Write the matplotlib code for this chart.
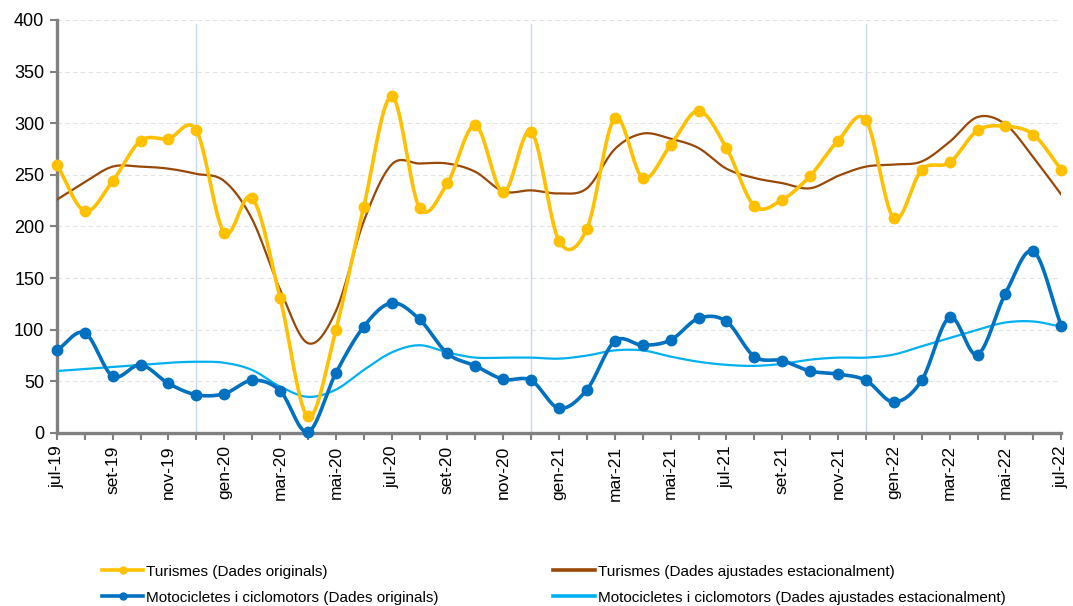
import numpy as np
import matplotlib
matplotlib.use("Agg")
import matplotlib.pyplot as plt
from matplotlib.lines import Line2D

plt.rcParams['font.family'] = ['Liberation Sans', 'DejaVu Sans']

# months jul-19 .. jul-22
mesos = ['jul-19', 'ago-19', 'set-19', 'oct-19', 'nov-19', 'des-19',
         'gen-20', 'feb-20', 'mar-20', 'abr-20', 'mai-20', 'jun-20',
         'jul-20', 'ago-20', 'set-20', 'oct-20', 'nov-20', 'des-20',
         'gen-21', 'feb-21', 'mar-21', 'abr-21', 'mai-21', 'jun-21',
         'jul-21', 'ago-21', 'set-21', 'oct-21', 'nov-21', 'des-21',
         'gen-22', 'feb-22', 'mar-22', 'abr-22', 'mai-22', 'jun-22',
         'jul-22']

turismes_orig = [260, 215, 244, 283, 285, 293, 194, 228, 131, 16, 100, 219,
                 326, 218, 242, 298, 233, 292, 186, 198, 305, 247, 279, 312,
                 276, 220, 226, 249, 283, 303, 208, 255, 262, 293, 297, 289,
                 255]
turismes_aj = [226, 243, 258, 258, 256, 251, 244, 207, 139, 87, 118, 205,
               260, 261, 261, 253, 234, 235, 232, 237, 275, 290, 285, 276,
               256, 247, 242, 237, 249, 258, 260, 263, 282, 306, 299, 267,
               231]
motos_orig = [80, 97, 55, 66, 48, 37, 38, 51, 41, 1, 58, 103,
              126, 110, 77, 65, 52, 51, 24, 42, 89, 85, 90, 111,
              108, 74, 70, 60, 57, 51, 30, 51, 112, 76, 135, 176,
              104]
motos_aj = [60, 62, 64, 66, 68, 69, 68, 61, 45, 35, 42, 61,
            78, 85, 78, 73, 73, 73, 72, 75, 80, 80, 74, 69,
            66, 65, 67, 71, 73, 73, 76, 84, 92, 100, 107, 108,
            103]

labels = ['Turismes (Dades originals)',
          'Turismes (Dades ajustades estacionalment)',
          'Motocicletes i ciclomotors (Dades originals)',
          'Motocicletes i ciclomotors (Dades ajustades estacionalment)']


def smooth(y, n=20):
    # catmull-rom like excel smoothed line
    y = np.asarray(y, dtype=float)
    x = np.arange(len(y), dtype=float)
    p = np.concatenate([[2 * y[0] - y[1]], y, [2 * y[-1] - y[-2]]])
    xs, ys = [], []
    for i in range(len(y) - 1):
        p0, p1, p2, p3 = p[i], p[i + 1], p[i + 2], p[i + 3]
        t = np.linspace(0, 1, n, endpoint=False)
        yy = 0.5 * ((2 * p1) + (-p0 + p2) * t + (2 * p0 - 5 * p1 + 4 * p2 - p3) * t ** 2
                    + (-p0 + 3 * p1 - 3 * p2 + p3) * t ** 3)
        xs.append(x[i] + t)
        ys.append(yy)
    xs.append([x[-1]])
    ys.append([y[-1]])
    return np.concatenate(xs), np.concatenate(ys)


c_yel = '#FFC000'
c_brn = '#984807'
c_blu = '#0070C0'
c_lbl = '#00B0F0'

fig = plt.figure(figsize=(10.73, 6.06), dpi=100)
ax = fig.add_axes([0.053, 0.2855, 0.936, 0.6815])

x = np.arange(len(mesos))

for v in [5, 17, 29]:
    ax.axvline(v, ymin=0, ymax=0.99, color='#C6D9F1', lw=1.0, zorder=1)

ax.plot(*smooth(turismes_aj), color=c_brn, lw=1.6, zorder=3)
ax.plot(*smooth(motos_aj), color=c_lbl, lw=1.6, zorder=3)
ax.plot(*smooth(turismes_orig), color=c_yel, lw=2.6, zorder=4, clip_on=False)
ax.plot(x, turismes_orig, 'o', color=c_yel, ms=7.5, zorder=5, clip_on=False)
ax.plot(*smooth(motos_orig), color=c_blu, lw=2.6, zorder=4, clip_on=False)
ax.plot(x, motos_orig, 'o', color=c_blu, ms=7.5, zorder=5, clip_on=False)

ax.set_xlim(0, 36)
ax.set_ylim(0, 400)
ax.set_yticks(range(0, 401, 50))
ax.set_xticks(x)
ax.set_xticklabels([m if i % 2 == 0 else '' for i, m in enumerate(mesos)],
                   rotation=90, fontsize=12.5)
ax.tick_params(axis='y', labelsize=13, length=5, width=1.5, color='#808080', pad=4)
ax.tick_params(axis='x', length=5, width=1.5, color='#808080', pad=4)
ax.yaxis.grid(True, color='#E3E3E3', lw=0.8, ls=(0, (4, 3)))
ax.set_axisbelow(True)
for s in ['top', 'right']:
    ax.spines[s].set_visible(False)
for s in ['left', 'bottom']:
    ax.spines[s].set_color('#808080')
    ax.spines[s].set_linewidth(2.4)

h_to = Line2D([], [], color=c_yel, lw=2.6, marker='o', ms=5)
h_ta = Line2D([], [], color=c_brn, lw=2.6)
h_mo = Line2D([], [], color=c_blu, lw=2.6, marker='o', ms=5)
h_ma = Line2D([], [], color=c_lbl, lw=2.6)
# matplotlib fills legend columns first, so order for row-wise layout
fig.legend([h_to, h_mo, h_ta, h_ma], [labels[0], labels[2], labels[1], labels[3]],
           ncol=2, loc='upper left',
           bbox_to_anchor=(0.088, 0.081), frameon=False, fontsize=11,
           handlelength=2.7, handletextpad=0.2, columnspacing=7.5,
           labelspacing=0.8, borderpad=0)

fig.savefig('out.png', dpi=100)
